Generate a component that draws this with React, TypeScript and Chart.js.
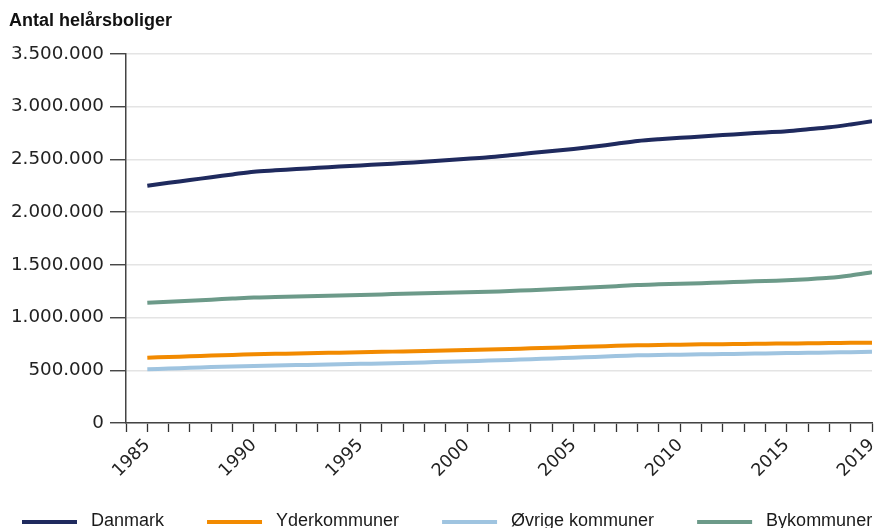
import React, { useEffect, useRef } from "react";
import { Chart, registerables } from "chart.js";

Chart.register(...registerables);

const years = [
  1985, 1986, 1987, 1988, 1989, 1990, 1991, 1992, 1993, 1994, 1995, 1996,
  1997, 1998, 1999, 2000, 2001, 2002, 2003, 2004, 2005, 2006, 2007, 2008,
  2009, 2010, 2011, 2012, 2013, 2014, 2015, 2016, 2017, 2018, 2019,
];

const labelYears = [1985, 1990, 1995, 2000, 2005, 2010, 2015, 2019];

const danmark = [
  2251000, 2278000, 2305000, 2331000, 2358000, 2384000, 2397000, 2409000,
  2421000, 2432000, 2443000, 2454000, 2465000, 2478000, 2492000, 2507000,
  2521000, 2540000, 2560000, 2580000, 2600000, 2622000, 2648000, 2675000,
  2692000, 2705000, 2718000, 2731000, 2744000, 2756000, 2768000, 2786000,
  2805000, 2832000, 2862000,
];

const yderkommuner = [
  619000, 626000, 633000, 640000, 646000, 652000, 656000, 660000, 664000,
  667000, 671000, 675000, 679000, 683000, 687000, 692000, 697000, 702000,
  708000, 714000, 720000, 726000, 732000, 737000, 740000, 743000, 746000,
  748000, 750000, 752000, 754000, 756000, 758000, 760000, 762000,
];

const oevrige = [
  509000, 516000, 523000, 530000, 536000, 541000, 545000, 549000, 553000,
  557000, 561000, 565000, 570000, 575000, 580000, 586000, 592000, 598000,
  605000, 612000, 619000, 627000, 635000, 642000, 645000, 648000, 651000,
  654000, 657000, 660000, 663000, 666000, 669000, 672000, 676000,
];

const bykommuner = [
  1141000, 1151000, 1160000, 1170000, 1180000, 1190000, 1195000, 1200000,
  1205000, 1210000, 1215000, 1220000, 1225000, 1230000, 1235000, 1240000,
  1245000, 1252000, 1260000, 1268000, 1277000, 1287000, 1298000, 1309000,
  1315000, 1320000, 1326000, 1333000, 1340000, 1347000, 1354000, 1364000,
  1377000, 1400000, 1429000,
];

const seriesNames = ["Danmark", "Yderkommuner", "Øvrige kommuner", "Bykommuner"];
const seriesColors = ["#1f2a5e", "#f28a00", "#9fc4e0", "#6c9a89"];
const seriesValues = [danmark, yderkommuner, oevrige, bykommuner];

const title = "Antal helårsboliger";

const fmt = (v: number) =>
  String(Math.round(v)).replace(/\B(?=(\d{3})+(?!\d))/g, ".");

const legendPlugin = {
  id: "bottomLegend",
  afterDraw(chart: any) {
    const ctx = chart.ctx;
    const h = chart.height;
    ctx.save();
    ctx.font = '18px "Liberation Sans", Arial, sans-serif';
    ctx.textBaseline = "alphabetic";
    ctx.textAlign = "left";
    let x = 22;
    const lineLen = 55;
    const gapText = 14;
    const gapItem = 43;
    chart.data.datasets.forEach((ds: any) => {
      ctx.strokeStyle = ds.borderColor;
      ctx.lineWidth = 4;
      ctx.lineCap = "butt";
      ctx.beginPath();
      ctx.moveTo(x, h - 6);
      ctx.lineTo(x + lineLen, h - 6);
      ctx.stroke();
      x += lineLen + gapText;
      ctx.fillStyle = "#1a1a1a";
      ctx.fillText(ds.label, x, h - 2);
      x += ctx.measureText(ds.label).width + gapItem;
    });
    ctx.restore();
  },
};

export default function App() {
  const canvasRef = useRef<HTMLCanvasElement | null>(null);

  useEffect(() => {
    if (!canvasRef.current) return;
    const chart = new Chart(canvasRef.current, {
      type: "line",
      data: {
        datasets: seriesNames.map((name, i) => ({
          label: name,
          data: years.map((yr, j) => ({ x: yr, y: seriesValues[i][j] })),
          borderColor: seriesColors[i],
          backgroundColor: seriesColors[i],
          borderWidth: 4,
          pointRadius: 0,
          tension: 0.3,
          fill: false,
        })),
      },
      options: {
        animation: false,
        responsive: false,
        layout: { padding: { left: 9, right: 4, top: 0, bottom: 0 } },
        plugins: {
          legend: { display: false },
          tooltip: { enabled: false },
          title: {
            display: true,
            text: title,
            align: "start",
            color: "#111",
            font: { family: '"Liberation Sans", Arial, sans-serif', size: 18, weight: "bold" },
            padding: { top: 10, bottom: 22.4 },
          },
        },
        scales: {
          x: {
            type: "linear",
            min: 1984,
            max: 2019,
            afterBuildTicks: (scale: any) => {
              const t = [];
              for (let v = 1984; v <= 2019; v++) t.push({ value: v });
              scale.ticks = t;
            },
            afterFit: (scale: any) => {
              scale.height = 105;
              scale.paddingLeft = 0;
              scale.paddingRight = 0;
            },
            ticks: {
              autoSkip: false,
              maxRotation: 45,
              minRotation: 45,
              padding: 3,
              color: "#222",
              font: { family: '"DejaVu Sans", sans-serif', size: 17.5 },
              callback: (v: any) => (labelYears.includes(Number(v)) ? String(v) : ""),
            },
            grid: {
              drawOnChartArea: false,
              drawTicks: true,
              tickLength: 9,
              tickColor: "#333",
              tickWidth: 1.3,
            },
            border: { display: true, color: "#444", width: 1.5 },
          },
          y: {
            min: 0,
            max: 3500000,
            afterFit: (scale: any) => {
              scale.width = 117;
            },
            ticks: {
              stepSize: 500000,
              padding: 6,
              color: "#222",
              font: { family: '"DejaVu Sans", sans-serif', size: 18.3 },
              callback: (v: any) => fmt(Number(v)),
            },
            grid: {
              color: "#e4e4e4",
              lineWidth: 1.5,
              tickLength: 16,
              tickColor: "#333",
              tickWidth: 1.3,
            },
            border: { display: true, color: "#444", width: 1.5 },
          },
        },
      },
      plugins: [legendPlugin],
    } as any);
    return () => chart.destroy();
  }, []);

  return (
    <div style={{ position: "fixed", left: 0, top: 0, width: 876, height: 528, background: "#fff" }}>
      <canvas ref={canvasRef} width={876} height={528} style={{ width: 876, height: 528, display: "block" }} />
    </div>
  );
}
